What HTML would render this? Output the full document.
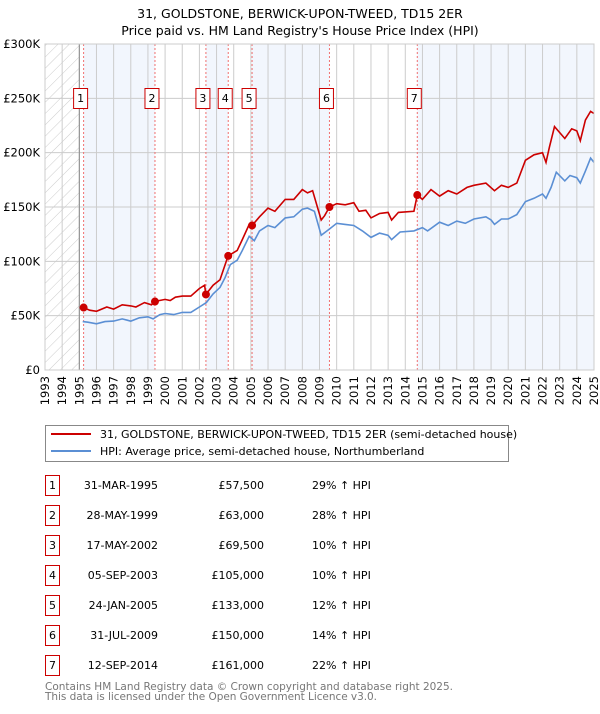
<!DOCTYPE html>
<html><head><meta charset="utf-8"><style>
body{margin:0;background:#fff;font-family:"DejaVu Sans","Liberation Sans",sans-serif;}
svg text{font-family:"DejaVu Sans","Liberation Sans",sans-serif;}
</style></head><body>
<svg id="chart" width="600" height="710" xmlns="http://www.w3.org/2000/svg">
<defs><pattern id="hatch" width="8" height="8" patternUnits="userSpaceOnUse" patternTransform="rotate(45)"><line x1="0" y1="0" x2="0" y2="8" stroke="#ccc" stroke-width="1"/></pattern></defs>
<text x="300" y="18" text-anchor="middle" font-size="12.5">31, GOLDSTONE, BERWICK-UPON-TWEED, TD15 2ER</text>
<text x="300" y="35" text-anchor="middle" font-size="12.5">Price paid vs. HM Land Registry's House Price Index (HPI)</text>
<g id="plot"></g>
<g>
<rect x="45.5" y="425.5" width="463" height="36" fill="#fff" stroke="#888"/>
<line x1="51" y1="434" x2="91" y2="434" stroke="#cc0000" stroke-width="2"/>
<text x="100" y="438" font-size="11">31, GOLDSTONE, BERWICK-UPON-TWEED, TD15 2ER (semi-detached house)</text>
<line x1="51" y1="451" x2="91" y2="451" stroke="#5b8fd4" stroke-width="2"/>
<text x="100" y="455" font-size="11">HPI: Average price, semi-detached house, Northumberland</text>
</g>
<g id="table"></g>
<text x="45" y="690" font-size="10.5" fill="#777" textLength="408">Contains HM Land Registry data © Crown copyright and database right 2025.</text>
<text x="45" y="700" font-size="10.5" fill="#777" textLength="332">This data is licensed under the Open Government Licence v3.0.</text>
</svg>
<script>
const hpiYears=[1995.2,1995.5,1996,1996.5,1997,1997.5,1998,1998.5,1999,1999.3,1999.7,2000,2000.5,2001,2001.5,2002,2002.4,2002.8,2003.2,2003.5,2003.8,2004.2,2004.5,2004.9,2005.2,2005.5,2006,2006.4,2007,2007.5,2008,2008.3,2008.7,2009.1,2009.6,2010,2010.5,2011,2011.5,2012,2012.5,2013,2013.2,2013.7,2014.5,2015,2015.3,2016,2016.5,2017,2017.5,2018,2018.7,2019,2019.2,2019.6,2020,2020.5,2021,2021.5,2022,2022.2,2022.5,2022.8,2023.3,2023.6,2024,2024.2,2024.5,2024.8,2025];
const hpiValues=[44.5,44,42.5,44.5,45,47,45,48,49,47,51,52,51,53,53,58,62,70,76,85,97,101,110,123,119,128,133,131,140,141,148,149,146,124,130,135,134,133,128,122,126,124,120,127,128,131,128,136,133,137,135,139,141,138,134,139,139,143,155,158,162,158,168,182,174,179,177,172,183,195,191];
const ppYears=[1995.25,1995.6,1996,1996.6,1997,1997.5,1998,1998.3,1998.8,1999.2,1999.4,2000,2000.3,2000.6,2001,2001.5,2002,2002.3,2002.37,2002.8,2003.2,2003.67,2004.2,2004.5,2004.9,2005.07,2005.5,2006,2006.4,2007,2007.5,2008,2008.3,2008.6,2009.1,2009.3,2009.58,2010,2010.5,2011,2011.3,2011.7,2012,2012.5,2013,2013.2,2013.6,2014.5,2014.7,2015,2015.5,2016,2016.5,2017,2017.6,2018,2018.7,2019.2,2019.6,2020,2020.5,2021,2021.5,2022,2022.2,2022.4,2022.7,2023.3,2023.7,2024,2024.2,2024.5,2024.8,2025];
const ppValues=[57.5,55,54,58,56,60,59,58,62,60,63,65,64,67,68,68,75,78,69.5,78,83,105,110,120,134,133,141,149,146,157,157,166,163,165,138,142,150,153,152,154,146,147,140,144,145,138,145,146,161,157,166,160,165,162,168,170,172,165,170,168,172,193,198,200,191,205,224,213,222,220,211,230,238,236];
const saleYears=[1995.25,1999.41,2002.38,2003.68,2005.07,2009.58,2014.7];
const saleValues=[57.5,63,69.5,105,133,150,161];
const saleDates=["31-MAR-1995","28-MAY-1999","17-MAY-2002","05-SEP-2003","24-JAN-2005","31-JUL-2009","12-SEP-2014"];
const salePrices=["£57,500","£63,000","£69,500","£105,000","£133,000","£150,000","£161,000"];
const saleHpi=["29% ↑ HPI","28% ↑ HPI","10% ↑ HPI","10% ↑ HPI","12% ↑ HPI","14% ↑ HPI","22% ↑ HPI"];
const yTicks=[0,50,100,150,200,250,300];
const yTickLabels=["£0","£50K","£100K","£150K","£200K","£250K","£300K"];
const NS="http://www.w3.org/2000/svg";
const X0=45,X1=594,Y0=370,Y1=44;
const xs=y=>X0+(y-1993)/(2025-1993)*(X1-X0);
const ys=v=>Y0-v/300*(Y0-Y1);
function mk(tag,attrs,parent){const e=document.createElementNS(NS,tag);for(const k in attrs)e.setAttribute(k,attrs[k]);parent.appendChild(e);return e;}
const g=document.getElementById('plot');
const edges=[1995,...saleYears.slice(1),2025];
for(let i=0;i<edges.length-1;i++){if(i%2===0){const s=i===0?saleYears[0]:edges[i];const r=mk('rect',{x:xs(s),y:Y1,width:xs(edges[i+1])-xs(s),height:Y0-Y1,fill:'#f2f6fd'},g);

}}
const h=mk('rect',{x:xs(1993),y:Y1,width:xs(1995)-xs(1993),height:Y0-Y1,fill:'url(#hatch)'},g);


for(let yr=1993;yr<=2025;yr++){const l=mk('line',{x1:xs(yr),x2:xs(yr),y1:Y1,y2:Y0,stroke:'#ccc'},g);


const t=mk('text',{x:0,y:0,'font-size':11.5,'text-anchor':'end',transform:`translate(${xs(yr)+4},${Y0+6}) rotate(-90)`},g);
t.textContent=yr;

}
yTicks.forEach((v,i)=>{const l=mk('line',{x1:X0,x2:X1,y1:ys(v),y2:ys(v),stroke:'#ccc'},g);


const t=mk('text',{x:40,y:ys(v)+4,'font-size':11.5,'text-anchor':'end'},g);
t.textContent=yTickLabels[i];

});
mk('line',{x1:xs(1995),x2:xs(1995),y1:Y1,y2:Y0,stroke:'#888'},g);
saleYears.forEach((y,i)=>{const l=mk('line',{x1:xs(y),x2:xs(y),y1:Y1,y2:Y0,stroke:'#f07070','stroke-dasharray':'2,2'},g);


const r=mk('rect',{x:xs(y)-10,y:88.5,width:14,height:20,fill:'#fff',stroke:'#cc0000'},g);


const t=mk('text',{x:xs(y)-3,y:102,'font-size':11,'text-anchor':'middle'},g);
t.textContent=i+1;

});
const path=(xa,va)=>xa.map((y,i)=>(i?'L':'M')+xs(y).toFixed(1)+','+ys(va[i]).toFixed(1)).join('');
const hp=mk('path',{d:path(hpiYears,hpiValues),fill:'none',stroke:'#5b8fd4','stroke-width':1.6},g);


const pp=mk('path',{d:path(ppYears,ppValues),fill:'none',stroke:'#cc0000','stroke-width':1.6},g);


saleYears.forEach((y,i)=>{const c=mk('circle',{cx:xs(y),cy:ys(saleValues[i]),r:4,fill:'#cc0000'},g);

});
mk('rect',{x:X0,y:Y1,width:X1-X0,height:Y0-Y1,fill:'none',stroke:'#ccc'},g);
const tb=document.getElementById('table');
saleDates.forEach((d,i)=>{const y0=475+i*30;
const r=mk('rect',{x:45.5,y:y0+0.5,width:14,height:20,fill:'#fff',stroke:'#cc0000'},tb);


const n=mk('text',{x:52.5,y:y0+14,'font-size':11,'text-anchor':'middle'},tb);n.textContent=i+1;


const a=mk('text',{x:158,y:y0+14,'font-size':11,'text-anchor':'end'},tb);a.textContent=d;


const b=mk('text',{x:264,y:y0+14,'font-size':11,'text-anchor':'end'},tb);b.textContent=salePrices[i];


const c=mk('text',{x:312,y:y0+14,'font-size':11},tb);c.textContent=saleHpi[i];

});
</script>
</body></html>
